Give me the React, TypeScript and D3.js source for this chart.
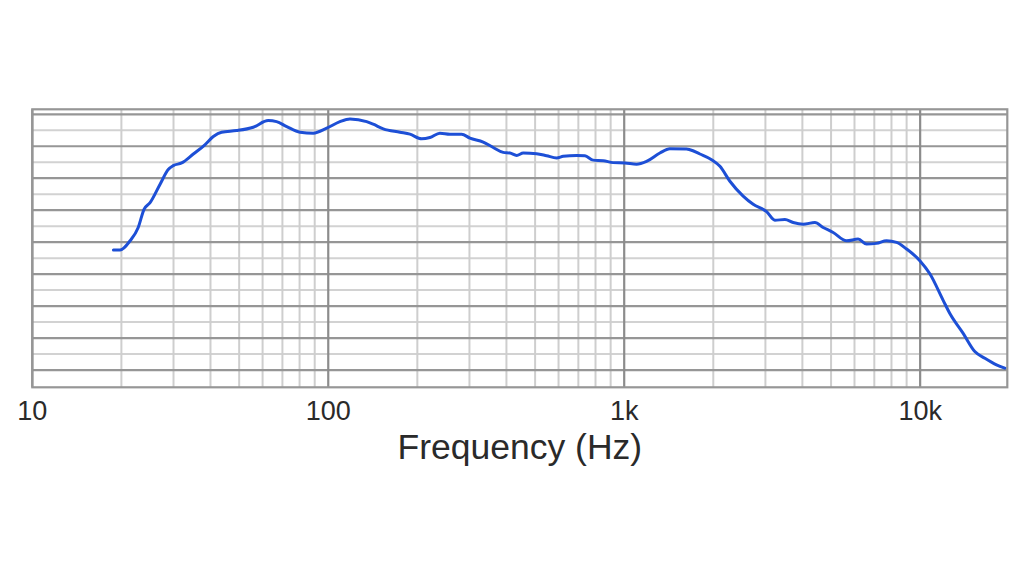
import React from "react";
import * as d3 from "d3";

const freqHz: number[] = [
  18.8, 19.8, 21.4, 22.8, 23.85, 25.0, 27.0, 28.8, 29.95, 31.97, 35.0, 38.3, 40.9, 43.6, 49.0, 55.8,
  62.7, 66.9, 72.4, 80.3, 89.0, 98.8, 109.5, 118.4, 134.8, 141.9, 153.4, 174.7, 188.8, 206.8, 220.6,
  238.4, 257.7, 282.2, 301.1, 333.9, 360.9, 390.1, 411.1, 433.2, 456.0, 505.9, 546.8, 590.9, 622.1,
  690.5, 736.5, 785.6, 849.3, 917.9, 1005.5, 1101, 1190, 1320, 1427, 1625, 1667, 1802, 1974, 2106,
  2276, 2523, 2728, 3027, 3229, 3491, 3724, 4024, 4409, 4702, 5083, 5642, 6173, 6590, 7123, 7700,
  8325, 8997, 9977, 10785, 11960, 12600, 13975, 15300, 16545, 18115, 19325,
];

const levelDb: number[] = [
  -21.23, -21.23, -19.78, -17.7, -14.86, -13.82, -10.98, -8.65, -8.03, -7.61, -6.21, -4.77, -3.48,
  -2.8, -2.55, -2.02, -0.99, -1.15, -1.93, -2.8, -2.95, -2.17, -1.15, -0.73, -1.15, -1.55, -2.28,
  -2.8, -3.11, -3.84, -3.63, -2.95, -3.11, -3.11, -3.73, -4.35, -5.19, -5.96, -6.06, -6.43, -6.06,
  -6.16, -6.48, -6.83, -6.58, -6.43, -6.48, -7.17, -7.25, -7.56, -7.61, -7.8, -7.36, -6.06, -5.39,
  -5.43, -5.54, -6.21, -7.1, -8.14, -10.47, -12.8, -14.08, -15.22, -16.57, -16.46, -16.93, -17.19,
  -16.93, -17.7, -18.48, -19.78, -19.52, -20.3, -20.19, -19.78, -20.03, -21.07, -22.89, -24.95,
  -29.1, -31.16, -34.27, -37.11, -38.15, -39.19, -39.7,
];

const decadeTicks: number[] = [10, 100, 1000, 10000];
const decadeLabels: string[] = ["10", "100", "1k", "10k"];
const majorDb: number[] = [0, -5, -10, -15, -20, -25, -30, -35, -40];
const minorDb: number[] = [-2.5, -7.5, -12.5, -17.5, -22.5, -27.5, -32.5, -37.5];
const xTitle = "Frequency (Hz)";

const X_MIN = 10;
const X_MAX = 19700;
const Y_MIN = -42.7;
const Y_MAX = 0.78;

export default function App() {
  const left = 32.3;
  const right = 1007.3;
  const top = 109.3;
  const bottom = 387.3;

  const x = d3.scaleLog().domain([X_MIN, X_MAX]).range([left, right]);
  const y = d3.scaleLinear().domain([Y_MIN, Y_MAX]).range([bottom, top]);

  const minorFreqs: number[] = [];
  for (const dec of [10, 100, 1000, 10000]) {
    for (let m = 2; m <= 9; m++) {
      const f = dec * m;
      if (f < X_MAX) minorFreqs.push(f);
    }
  }

  const pts: [number, number][] = freqHz.map((f, i) => [x(f), y(levelDb[i])]);
  const line = d3.line().curve(d3.curveMonotoneX)(pts) || "";

  const font = "'Liberation Sans', Arial, Helvetica, sans-serif";

  return (
    <svg
      width={1024}
      height={576}
      style={{ position: "absolute", left: 0, top: 0, background: "#fff" }}
    >
      <rect x={0} y={0} width={1024} height={576} fill="#fff" />
      {minorDb.map((v) => (
        <line key={"mh" + v} x1={left} x2={right} y1={y(v)} y2={y(v)} stroke="#d2d2d2" strokeWidth={2} />
      ))}
      {minorFreqs.map((f) => (
        <line key={"mv" + f} x1={x(f)} x2={x(f)} y1={top} y2={bottom} stroke="#cecece" strokeWidth={2} />
      ))}
      {majorDb.map((v) => (
        <line key={"Mh" + v} x1={left} x2={right} y1={y(v)} y2={y(v)} stroke="#969696" strokeWidth={2.2} />
      ))}
      {decadeTicks.map((f) => (
        <line key={"Mv" + f} x1={x(f)} x2={x(f)} y1={top} y2={bottom} stroke="#8c8c8c" strokeWidth={2.2} />
      ))}
      <rect x={left} y={top} width={right - left} height={bottom - top} fill="none" stroke="#969696" strokeWidth={2.2} />
      <path d={line} fill="none" stroke="#1d4fd6" strokeWidth={3} strokeLinejoin="round" strokeLinecap="round" />
      {decadeTicks.map((f, i) => (
        <text
          key={"t" + f}
          x={x(f)}
          y={419.5}
          textAnchor="middle"
          fontFamily={font}
          fontSize={27}
          fill="#2a2a2a"
        >
          {decadeLabels[i]}
        </text>
      ))}
      <text
        x={(left + right) / 2}
        y={458.5}
        textAnchor="middle"
        fontFamily={font}
        fontSize={35.5}
        fill="#2a2a2a"
      >
        {xTitle}
      </text>
    </svg>
  );
}
